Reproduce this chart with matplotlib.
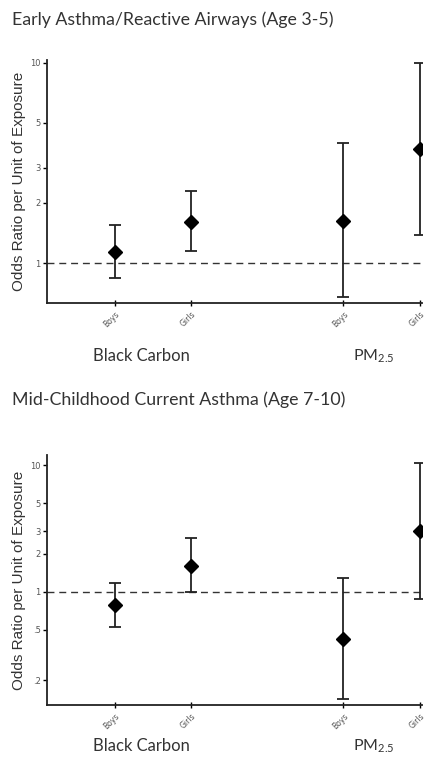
import matplotlib
matplotlib.use("Agg")
import matplotlib.pyplot as plt
import numpy as np
from matplotlib.ticker import FixedLocator, FixedFormatter, NullLocator

plt.rcParams['mathtext.fontset'] = 'custom'
plt.rcParams['mathtext.rm'] = 'Lato'
plt.rcParams['mathtext.it'] = 'Lato'

# ---- data ----
categories = ["Boys", "Girls", "Boys", "Girls"]
positions = [1, 2, 4, 5]
groups = ["Black Carbon", "PM$_{2.5}$"]

early_or = [1.14, 1.61, 1.62, 3.71]
early_lo = [0.84, 1.15, 0.68, 1.39]
early_hi = [1.55, 2.28, 3.98, 9.9]

mid_or = [0.785, 1.60, 0.426, 3.01]
mid_lo = [0.53, 1.00, 0.144, 0.875]
mid_hi = [1.18, 2.64, 1.29, 10.4]

titles = ["Early Asthma/Reactive Airways (Age 3-5)",
          "Mid-Childhood Current Asthma (Age 7-10)"]
ticks_top = [1, 2, 3, 5, 10]
ticklabels_top = ["1", "2", "3", "5", "10"]
ticks_bot = [0.2, 0.5, 1, 2, 3, 5, 10]
ticklabels_bot = [".2", ".5", "1", "2", "3", "5", "10"]

W, H = 426, 764
fig = plt.figure(figsize=(W / 100, H / 100), dpi=100)

def fx(px):
    return px / W

def fy(py):
    return 1 - py / H

def panel(top, bottom, vals, lo, hi, ylim, ticks, labels, title, title_y, grp_y):
    ax = fig.add_axes([fx(47), fy(bottom), fx(422) - fx(47), fy(top) - fy(bottom)])
    ax.set_yscale('log')
    ax.set_xlim(0.11, 5.03)
    ax.set_ylim(*ylim)
    vals = np.array(vals)
    yerr = np.vstack([vals - np.array(lo), np.array(hi) - vals])
    ax.axhline(1, color='#333333', lw=1.0, ls=(0, (5, 3.5)), zorder=1)
    ax.errorbar(positions, vals, yerr=yerr, fmt='D', color='black', ms=7.5,
                ecolor='#222222', elinewidth=1.3, capsize=4, capthick=1.3, zorder=3)
    for s in ['top', 'right']:
        ax.spines[s].set_visible(False)
    for s in ['left', 'bottom']:
        ax.spines[s].set_linewidth(1.3)
        ax.spines[s].set_color('#222222')
    ax.yaxis.set_major_locator(FixedLocator(ticks))
    ax.yaxis.set_major_formatter(FixedFormatter(labels))
    ax.yaxis.set_minor_locator(NullLocator())
    ax.tick_params(axis='y', direction='out', length=3, width=1, labelsize=6,
                   labelcolor='#555555', pad=1.5)
    ax.set_xticks(positions)
    ax.set_xticklabels(categories, rotation=45, ha='right', rotation_mode='anchor')
    ax.tick_params(axis='x', direction='inout', length=4, width=1, labelsize=5.5,
                   labelcolor='#555555', pad=3)
    ax.set_ylabel("Odds Ratio per Unit of Exposure", family='Liberation Sans',
                  fontsize=11, color='#333333', labelpad=3)
    fig.text(fx(12), fy(title_y), title, family='Lato', fontsize=12.8,
             color='#333333', va='center', ha='left')
    fig.text(fx(93), fy(grp_y), groups[0], family='Lato', fontsize=12,
             color='#333333', va='center', ha='left')
    fig.text(fx(353), fy(grp_y), groups[1], family='Lato', fontsize=11.5,
             color='#333333', va='center', ha='left')
    return ax

panel(60, 303, early_or, early_lo, early_hi, (0.634, 10.3), ticks_top,
      ticklabels_top, titles[0], 20, 356)
panel(455, 705, mid_or, mid_lo, mid_hi, (0.128, 12), ticks_bot,
      ticklabels_bot, titles[1], 400, 746)

fig.savefig("out.png", dpi=100)
